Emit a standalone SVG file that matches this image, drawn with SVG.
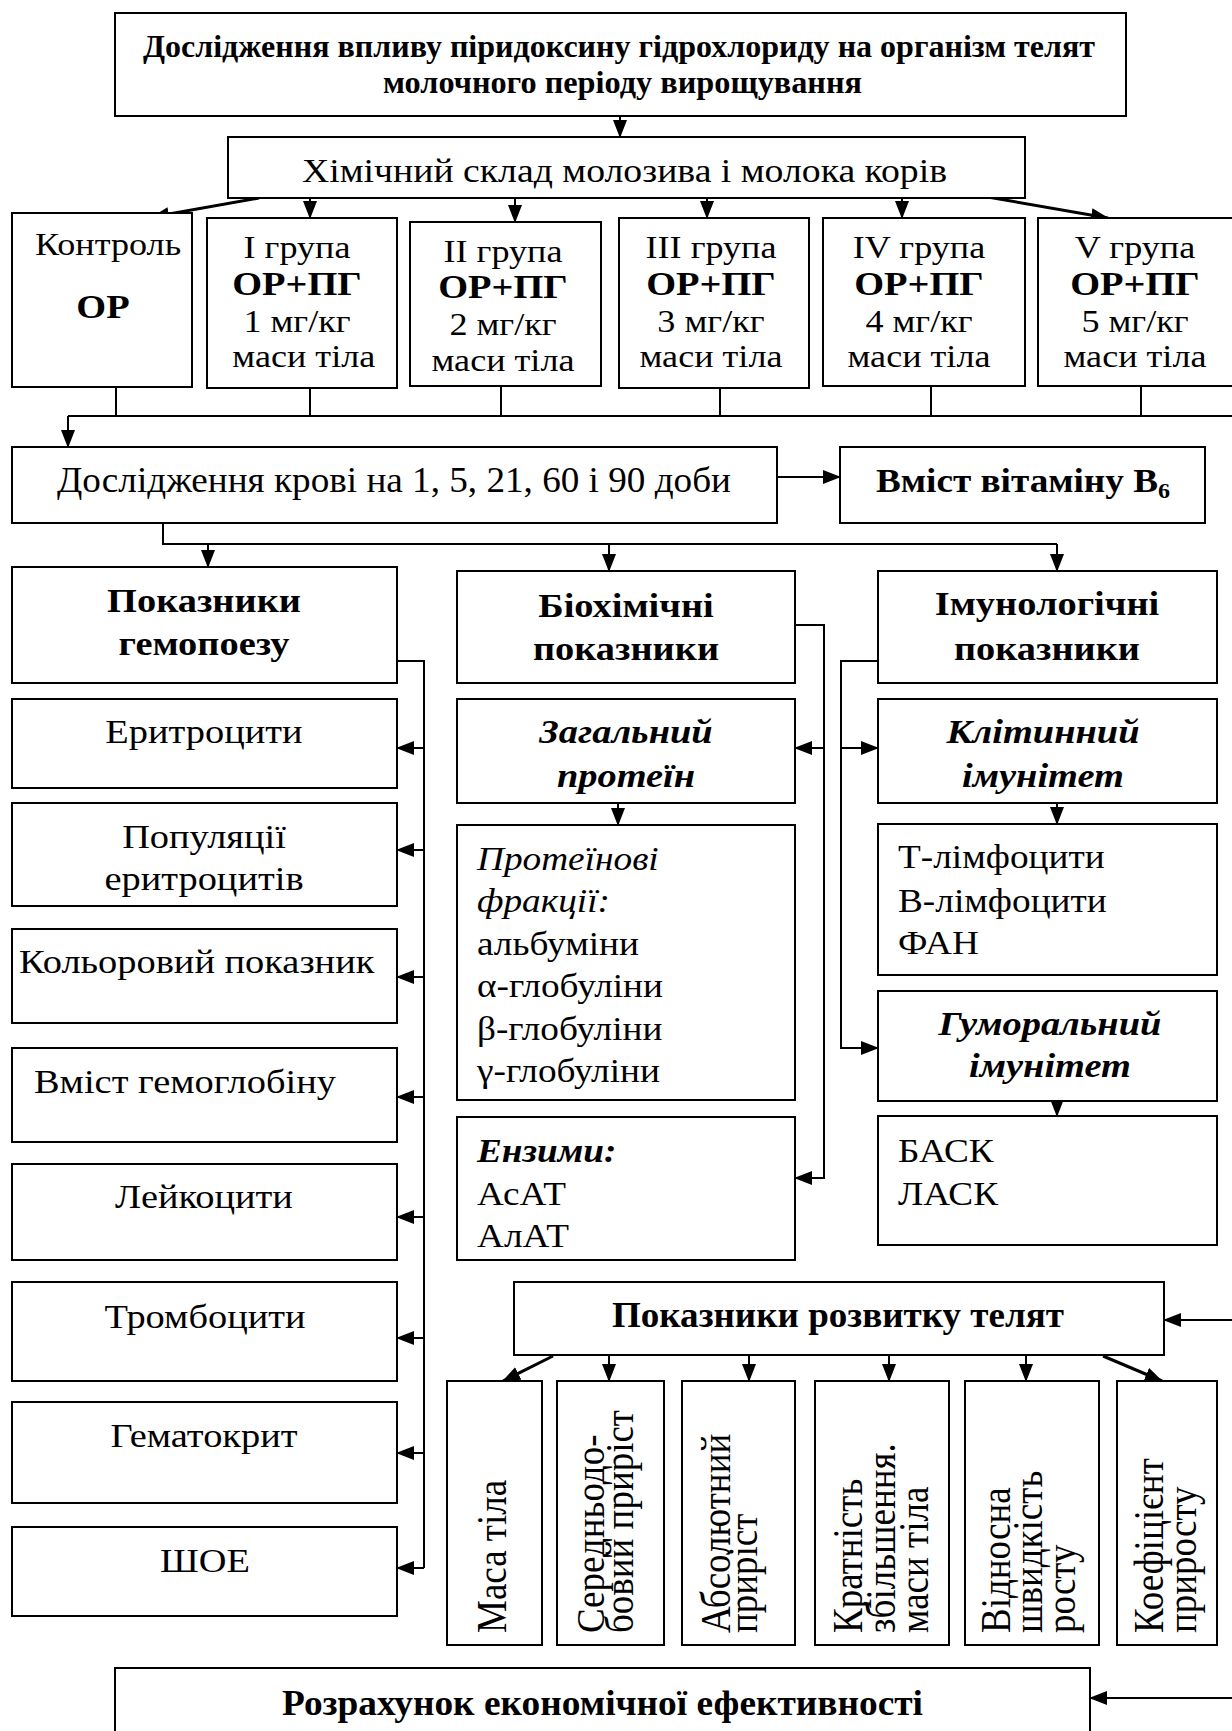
<svg xmlns="http://www.w3.org/2000/svg" width="1232" height="1731" viewBox="0 0 1232 1731">
<defs>
<style>
.bx{fill:#fff;stroke:#000;stroke-width:2}
.ln{fill:none;stroke:#000;stroke-width:2}
.ar{fill:none;stroke:#000;stroke-width:2;marker-end:url(#ah)}
.ad{fill:none;stroke:#000;stroke-width:3;marker-end:url(#ah)}
text{font-family:"Liberation Serif","Times New Roman",serif;fill:#000}
.r{font-size:34px}
.g{font-size:32px}
.s{font-size:33px}
.h{font-size:34px;font-weight:bold}
.hi{font-size:34px;font-weight:bold;font-style:italic}
.it{font-style:italic}
.b{font-weight:bold}
.m{text-anchor:middle}
.v{font-size:37px}
</style>
<marker id="ah" viewBox="0 0 18 14" refX="17" refY="7" markerWidth="18" markerHeight="14" orient="auto" markerUnits="userSpaceOnUse"><path d="M0,0 L18,7 L0,14 Z" fill="#000"/></marker>
</defs>
<rect x="0" y="0" width="1232" height="1731" fill="#fff"/>

<g id="connectors">
<path class="ar" d="M620,116 V137"/>
<path class="ad" d="M259,198 L152,217"/>
<path class="ar" d="M310,198 V218"/>
<path class="ar" d="M515,198 V222"/>
<path class="ar" d="M707,198 V218"/>
<path class="ar" d="M902,198 V218"/>
<path class="ad" d="M976,195 L1108,218"/>
<path class="ln" d="M116,387 V416 M310,388 V416 M501,386 V416 M720,388 V416 M931,386 V416 M1141,386 V416 M68,416 H1232"/>
<path class="ar" d="M68,416 V447"/>
<path class="ar" d="M775,477 H840"/>
<path class="ln" d="M163,523 V544 H1057"/>
<path class="ar" d="M208,544 V567"/>
<path class="ar" d="M609,544 V571"/>
<path class="ar" d="M1057,544 V571"/>
<path class="ln" d="M397,661 H424 V1568"/>
<path class="ar" d="M424,748 H397"/>
<path class="ar" d="M424,850 H397"/>
<path class="ar" d="M424,977 H397"/>
<path class="ar" d="M424,1097 H397"/>
<path class="ar" d="M424,1217 H397"/>
<path class="ar" d="M424,1338 H397"/>
<path class="ar" d="M424,1453 H397"/>
<path class="ar" d="M424,1568 H397"/>
<path class="ar" d="M795,625 H824 V1178 H795"/>
<path class="ar" d="M824,748 H795"/>
<path class="ar" d="M878,661 H841 V1048 H878"/>
<path class="ar" d="M841,748 H878"/>
<path class="ar" d="M618,803 V825"/>
<path class="ar" d="M1057,803 V824"/>
<path class="ar" d="M1057,1101 V1116"/>
<path class="ar" d="M1232,1320 H1164"/>
<path class="ad" d="M553,1356 L503,1381"/>
<path class="ar" d="M609,1355 V1381"/>
<path class="ar" d="M749,1355 V1381"/>
<path class="ar" d="M889,1355 V1381"/>
<path class="ar" d="M1026,1355 V1381"/>
<path class="ad" d="M1103,1356 L1162,1381"/>
<path class="ar" d="M1232,1698 H1090"/>
</g>

<g id="n_title"><rect class="bx" x="115" y="13" width="1011" height="103"/>
<text class="b" style="font-size:32px" x="143" y="57" textLength="952" lengthAdjust="spacingAndGlyphs">Дослідження впливу піридоксину гідрохлориду на організм телят</text>
<text class="b" style="font-size:32px" x="383" y="93" textLength="479" lengthAdjust="spacingAndGlyphs">молочного періоду вирощування</text></g>

<g id="n_chem"><rect class="bx" x="228" y="137" width="797" height="61"/>
<text class="r" x="302" y="182" textLength="645" lengthAdjust="spacingAndGlyphs">Хімічний склад молозива і молока корів</text></g>

<g id="n_ctrl"><rect class="bx" x="12" y="213" width="180" height="174"/>
<text class="g" transform="matrix(1.13 0 0 1 -4.55 0)" x="35" y="255">Контроль</text>
<text class="b m" style="font-size:34px" transform="matrix(1.13 0 0 1 -13.39 0)" x="103" y="318">ОР</text></g>

<g id="n_g1"><rect class="bx" x="207" y="218" width="190" height="170"/>
<text class="g m" transform="matrix(1.13 0 0 1 -38.61 0)"><tspan x="297" y="258">I група</tspan><tspan x="297" y="295" class="b" style="font-size:34px">ОР+ПГ</tspan><tspan x="297" y="332">1 мг/кг</tspan><tspan x="303" y="367">маси тіла</tspan></text></g>

<g id="n_g2"><rect class="bx" x="410" y="222" width="191" height="164"/>
<text class="g m" transform="matrix(1.13 0 0 1 -65.39 0)"><tspan x="503" y="262">II група</tspan><tspan x="503" y="298" class="b" style="font-size:34px">ОР+ПГ</tspan><tspan x="503" y="335">2 мг/кг</tspan><tspan x="503" y="371">маси тіла</tspan></text></g>

<g id="n_g3"><rect class="bx" x="619" y="218" width="190" height="170"/>
<text class="g m" transform="matrix(1.13 0 0 1 -92.43 0)"><tspan x="711" y="258">III група</tspan><tspan x="711" y="295" class="b" style="font-size:34px">ОР+ПГ</tspan><tspan x="711" y="332">3 мг/кг</tspan><tspan x="711" y="367">маси тіла</tspan></text></g>

<g id="n_g4"><rect class="bx" x="823" y="218" width="202" height="168"/>
<text class="g m" transform="matrix(1.13 0 0 1 -119.47 0)"><tspan x="919" y="258">IV група</tspan><tspan x="919" y="295" class="b" style="font-size:34px">ОР+ПГ</tspan><tspan x="919" y="332">4 мг/кг</tspan><tspan x="919" y="367">маси тіла</tspan></text></g>

<g id="n_g5"><rect class="bx" x="1038" y="218" width="210" height="168"/>
<text class="g m" transform="matrix(1.13 0 0 1 -147.55 0)"><tspan x="1135" y="258">V група</tspan><tspan x="1135" y="295" class="b" style="font-size:34px">ОР+ПГ</tspan><tspan x="1135" y="332">5 мг/кг</tspan><tspan x="1135" y="367">маси тіла</tspan></text></g>

<g id="n_blood"><rect class="bx" x="12" y="447" width="765" height="76"/>
<text class="r" style="font-size:36px" x="57" y="492" textLength="674" lengthAdjust="spacingAndGlyphs">Дослідження крові на 1, 5, 21, 60 і 90 доби</text></g>

<g id="n_b6"><rect class="bx" x="840" y="447" width="365" height="76"/>
<text class="h" x="876" y="492" textLength="294" lengthAdjust="spacingAndGlyphs">Вміст вітаміну В<tspan style="font-size:22px" dy="6">6</tspan></text></g>

<g id="n_hemo"><rect class="bx" x="12" y="567" width="385" height="116"/>
<text class="h m" transform="matrix(1.13 0 0 1 -26.52 0)"><tspan x="204" y="612">Показники</tspan><tspan x="204" y="655">гемопоезу</tspan></text></g>

<g id="n_bio"><rect class="bx" x="457" y="571" width="338" height="112"/>
<text class="h m" transform="matrix(1.13 0 0 1 -81.38 0)"><tspan x="626" y="617">Біохімічні</tspan><tspan x="626" y="660">показники</tspan></text></g>

<g id="n_imm"><rect class="bx" x="878" y="571" width="339" height="112"/>
<text class="h m" transform="matrix(1.13 0 0 1 -136.11 0)"><tspan x="1047" y="615">Імунологічні</tspan><tspan x="1047" y="660">показники</tspan></text></g>

<g id="n_erit"><rect class="bx" x="12" y="699" width="385" height="89"/>
<text class="r m" transform="matrix(1.13 0 0 1 -26.52 0)" x="204" y="743">Еритроцити</text></g>

<g id="n_prot"><rect class="bx" x="457" y="699" width="338" height="104"/>
<text class="hi m" transform="matrix(1.13 0 0 1 -81.38 0)"><tspan x="626" y="743">Загальний</tspan><tspan x="626" y="787">протеїн</tspan></text></g>

<g id="n_cell"><rect class="bx" x="878" y="699" width="339" height="104"/>
<text class="hi m" transform="matrix(1.13 0 0 1 -135.6 0)"><tspan x="1043" y="743">Клітинний</tspan><tspan x="1043" y="787">імунітет</tspan></text></g>

<g id="n_popul"><rect class="bx" x="12" y="803" width="385" height="103"/>
<text class="r m" transform="matrix(1.13 0 0 1 -26.52 0)"><tspan x="204" y="848">Популяції</tspan><tspan x="204" y="890">еритроцитів</tspan></text></g>

<g id="n_frac"><rect class="bx" x="457" y="825" width="338" height="275"/>
<text class="s" transform="matrix(1.13 0 0 1 -62.01 0)"><tspan x="477" y="870" class="it">Протеїнові</tspan><tspan x="477" y="912" class="it">фракції:</tspan><tspan x="477" y="955">альбуміни</tspan><tspan x="477" y="997">α-глобуліни</tspan><tspan x="477" y="1040">β-глобуліни</tspan><tspan x="477" y="1082">γ-глобуліни</tspan></text></g>

<g id="n_tl"><rect class="bx" x="878" y="824" width="339" height="151"/>
<text class="s" transform="matrix(1.13 0 0 1 -116.74 0)"><tspan x="898" y="868">Т-лімфоцити</tspan><tspan x="898" y="912">В-лімфоцити</tspan><tspan x="898" y="954">ФАН</tspan></text></g>

<g id="n_kolor"><rect class="bx" x="12" y="929" width="385" height="94"/>
<text class="r" transform="matrix(1.13 0 0 1 -2.47 0)" x="19" y="973">Кольоровий показник</text></g>

<g id="n_hum"><rect class="bx" x="878" y="991" width="339" height="110"/>
<text class="hi m" transform="matrix(1.13 0 0 1 -136.5 0)"><tspan x="1050" y="1035">Гуморальний</tspan><tspan x="1050" y="1077">імунітет</tspan></text></g>

<g id="n_hgb"><rect class="bx" x="12" y="1048" width="385" height="94"/>
<text class="r" transform="matrix(1.13 0 0 1 -4.42 0)" x="34" y="1093">Вміст гемоглобіну</text></g>

<g id="n_enz"><rect class="bx" x="457" y="1117" width="338" height="143"/>
<text class="s" transform="matrix(1.13 0 0 1 -62.01 0)"><tspan x="477" y="1162" class="b it">Ензими:</tspan><tspan x="477" y="1205">АсАТ</tspan><tspan x="477" y="1247">АлАТ</tspan></text></g>

<g id="n_bask"><rect class="bx" x="878" y="1116" width="339" height="129"/>
<text class="s" transform="matrix(1.13 0 0 1 -116.74 0)"><tspan x="898" y="1162">БАСК</tspan><tspan x="898" y="1205">ЛАСК</tspan></text></g>

<g id="n_leuk"><rect class="bx" x="12" y="1164" width="385" height="96"/>
<text class="r m" transform="matrix(1.13 0 0 1 -26.52 0)" x="204" y="1208">Лейкоцити</text></g>

<g id="n_dev"><rect class="bx" x="514" y="1282" width="650" height="73"/>
<text class="h" style="font-size:35px" x="612" y="1327" textLength="452" lengthAdjust="spacingAndGlyphs">Показники розвитку телят</text></g>

<g id="n_trom"><rect class="bx" x="12" y="1282" width="385" height="99"/>
<text class="r m" transform="matrix(1.13 0 0 1 -26.65 0)" x="205" y="1328">Тромбоцити</text></g>

<g id="n_hemat"><rect class="bx" x="12" y="1402" width="385" height="101"/>
<text class="r m" transform="matrix(1.13 0 0 1 -26.52 0)" x="204" y="1447">Гематокрит</text></g>

<g id="n_shoe"><rect class="bx" x="12" y="1527" width="385" height="89"/>
<text class="r m" transform="matrix(1.13 0 0 1 -26.65 0)" x="205" y="1572">ШОЕ</text></g>

<g id="n_mass"><rect class="bx" x="447" y="1381" width="95" height="264"/>
<text class="v" transform="translate(506,1633) rotate(-90) scale(1,1.13)">Маса тіла</text></g>

<g id="n_avg"><rect class="bx" x="557" y="1381" width="107" height="264"/>
<text class="v" transform="translate(604,1633) rotate(-90) scale(1,1.1)">Середньодо-</text>
<text class="v" transform="translate(633,1633) rotate(-90) scale(1,1.1)">бовий приріст</text></g>

<g id="n_abs"><rect class="bx" x="682" y="1381" width="113" height="264"/>
<text class="v" transform="translate(730,1633) rotate(-90) scale(1,1.13)">Абсолютний</text>
<text class="v" transform="translate(757,1633) rotate(-90) scale(1,1.13)">приріст</text></g>

<g id="n_mult"><rect class="bx" x="815" y="1381" width="134" height="264"/>
<text class="v" transform="translate(862,1633) rotate(-90) scale(1,1.13)">Кратність</text>
<text class="v" transform="translate(895,1633) rotate(-90) scale(1,1.13)">збільшення.</text>
<text class="v" transform="translate(928,1633) rotate(-90) scale(1,1.13)">маси тіла</text></g>

<g id="n_rel"><rect class="bx" x="965" y="1381" width="134" height="264"/>
<text class="v" transform="translate(1010,1633) rotate(-90) scale(1,1.13)">Відносна</text>
<text class="v" transform="translate(1042,1633) rotate(-90) scale(1,1.13)">швидкість</text>
<text class="v" transform="translate(1075,1633) rotate(-90) scale(1,1.13)">росту</text></g>

<g id="n_coef"><rect class="bx" x="1117" y="1381" width="100" height="264"/>
<text class="v" transform="translate(1163,1633) rotate(-90) scale(1,1.13)">Коефіцієнт</text>
<text class="v" transform="translate(1196,1633) rotate(-90) scale(1,1.13)">приросту</text></g>

<g id="n_econ"><rect class="bx" x="115" y="1668" width="975" height="80"/>
<text class="h" style="font-size:35px" x="282" y="1715" textLength="641" lengthAdjust="spacingAndGlyphs">Розрахунок економічної ефективності</text></g>
</svg>
